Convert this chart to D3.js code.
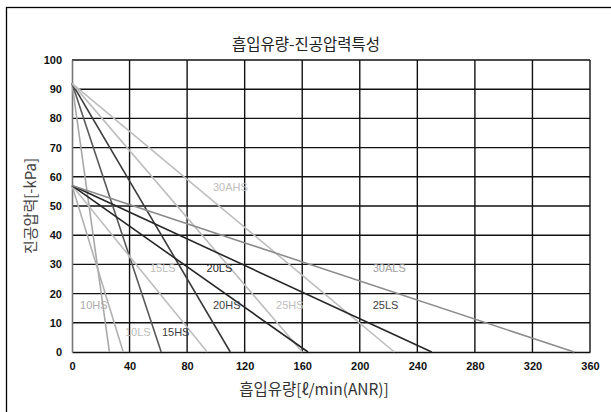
<!DOCTYPE html>
<html>
<head>
<meta charset="utf-8">
<script src="https://cdn.jsdelivr.net/npm/d3@7/dist/d3.min.js"></script>
<style>
  html, body { margin: 0; padding: 0; background: #fff; }
  svg { display: block; }
</style>
</head>
<body>
<svg id="chart" width="611" height="412"></svg>
<script>
// Suction flow vs. vacuum pressure for each ejector model
const models = ["10HS", "15HS", "20HS", "25HS", "30AHS", "10LS", "15LS", "20LS", "25LS", "30ALS"];
const maxVacuum = [92, 92, 92, 92, 92, 57, 57, 57, 57, 57];       // -kPa at zero flow
const maxFlow   = [26, 62, 110, 160, 224, 35.6, 94, 164, 250, 349]; // ℓ/min(ANR) at zero vacuum
const lineColors = ["#a8a8a8", "#595959", "#3a3a3a", "#bdbdbd", "#bdbdbd",
                    "#b0b0b0", "#bdbdbd", "#262626", "#262626", "#8c8c8c"];

// Label anchor points (flow, vacuum) and colours
const labelText  = ["10HS", "10LS", "15HS", "15LS", "20LS", "20HS", "25HS", "25LS", "30ALS", "30AHS"];
const labelFlow  = [5.6, 36.8, 62.5, 54.2, 93.5, 98, 141.8, 209, 209, 98];
const labelVac   = [16.1, 6.8, 6.8, 28.9, 28.9, 16.1, 16.1, 16.1, 28.9, 56.5];
const labelColor = ["#aaaaaa", "#bdbdbd", "#404040", "#bdbdbd", "#262626",
                    "#404040", "#bdbdbd", "#404040", "#a0a0a0", "#bdbdbd"];

const xTicks = [0, 40, 80, 120, 160, 200, 240, 280, 320, 360];
const yTicks = [0, 10, 20, 30, 40, 50, 60, 70, 80, 90, 100];

const chartTitle = "흡입유량-진공압력특성";
const xTitle = "흡입유량[ℓ/min(ANR)]";
const yTitle = "진공압력[-kPa]";

const svg = d3.select("#chart");
const plot = { left: 72, right: 590, top: 60, bottom: 352 };

// outer frame
svg.append("rect")
  .attr("x", 6.5).attr("y", 7.5)
  .attr("width", 640).attr("height", 440)
  .attr("fill", "#fff").attr("stroke", "#000").attr("stroke-width", 1.3);

const x = d3.scaleLinear().domain([0, 360]).range([plot.left, plot.right]);
const y = d3.scaleLinear().domain([0, 100]).range([plot.bottom, plot.top]);

// grid
const grid = svg.append("g");
grid.selectAll("line.v").data(xTicks.slice(1)).join("line")
  .attr("x1", d => x(d)).attr("x2", d => x(d))
  .attr("y1", plot.top).attr("y2", plot.bottom)
  .attr("stroke", "#111").attr("stroke-width", 1.4);
grid.selectAll("line.h").data(yTicks.slice(1)).join("line")
  .attr("x1", plot.left).attr("x2", plot.right)
  .attr("y1", d => y(d)).attr("y2", d => y(d))
  .attr("stroke", "#111").attr("stroke-width", 1.4);

// axes
const xAxis = d3.axisBottom(x).tickValues(xTicks).tickSize(0).tickPadding(10);
const yAxis = d3.axisLeft(y).tickValues(yTicks).tickSize(0).tickPadding(10);

const gx = svg.append("g").attr("transform", `translate(0,${plot.bottom})`).call(xAxis);
gx.select(".domain").attr("stroke", "#111").attr("stroke-width", 1.6);
const gy = svg.append("g").attr("transform", `translate(${plot.left},0)`).call(yAxis);
gy.select(".domain").attr("stroke", "#777").attr("stroke-width", 1.6);
svg.selectAll(".tick text")
  .attr("font-family", "Liberation Sans, Arial, sans-serif")
  .attr("font-size", 11).attr("font-weight", "bold").attr("fill", "#111");

// characteristic lines
const lines = models.map((m, i) => ({
  name: m,
  pts: [[0, maxVacuum[i]], [maxFlow[i], 0]],
  color: lineColors[i]
}));
const lineGen = d3.line().x(d => x(d[0])).y(d => y(d[1]));
svg.append("g").selectAll("path").data(lines).join("path")
  .attr("d", d => lineGen(d.pts))
  .attr("fill", "none")
  .attr("stroke", d => d.color)
  .attr("stroke-width", 1.6);

// model labels
svg.append("g").selectAll("text").data(labelText).join("text")
  .attr("x", (d, i) => x(labelFlow[i]))
  .attr("y", (d, i) => y(labelVac[i]))
  .attr("dy", "0.36em")
  .attr("font-family", "Liberation Sans, Arial, sans-serif")
  .attr("font-size", 11)
  .attr("fill", (d, i) => labelColor[i])
  .text(d => d);

// titles
const cjk = "'Noto Sans CJK KR', 'Noto Sans', sans-serif";
svg.append("text").attr("x", 306).attr("y", 50)
  .attr("text-anchor", "middle").attr("font-family", cjk)
  .attr("font-size", 15.5).attr("fill", "#222").text(chartTitle);
svg.append("text").attr("x", 314).attr("y", 395)
  .attr("text-anchor", "middle").attr("font-family", cjk)
  .attr("font-size", 15.5).attr("fill", "#333").text(xTitle);
svg.append("text")
  .attr("transform", `translate(36,${(plot.top + plot.bottom) / 2}) rotate(-90)`)
  .attr("text-anchor", "middle").attr("font-family", cjk)
  .attr("font-size", 15).attr("fill", "#444").text(yTitle);
</script>
</body>
</html>
